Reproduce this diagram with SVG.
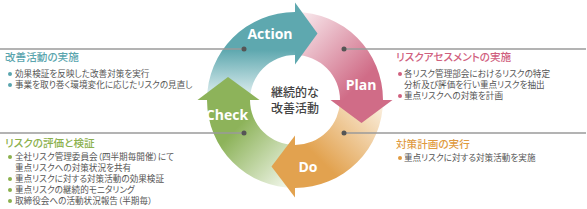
<svg xmlns="http://www.w3.org/2000/svg" width="587" height="209" viewBox="0 0 587 209">
<style>
.t{font-family:"Noto Sans CJK JP","Noto Sans",sans-serif;font-feature-settings:"palt";}
.ttl{font-size:10.6px;font-weight:500;}
.b{font-size:8.6px;fill:#555;}
.lbl{font-family:"Open Sans","DejaVu Sans",sans-serif;font-weight:bold;font-size:14px;fill:#fff;text-anchor:middle;}
.ctr{font-family:"Noto Sans CJK JP",sans-serif;font-size:12px;font-weight:500;fill:#444;text-anchor:middle;}
.ln{stroke:#9a9a9a;stroke-width:1.4;fill:none;}
.dot{fill:#555;}
</style>
<defs>
<linearGradient id="gA" gradientUnits="userSpaceOnUse" x1="0" y1="100" x2="0" y2="50"><stop offset="0" stop-color="#eaf4f5"/><stop offset="1" stop-color="#5ea8af"/></linearGradient>
<linearGradient id="gP" gradientUnits="userSpaceOnUse" x1="300" y1="15" x2="365" y2="78"><stop offset="0" stop-color="#f8e8ec"/><stop offset="1" stop-color="#d06c87"/></linearGradient>
<linearGradient id="gD" gradientUnits="userSpaceOnUse" x1="385" y1="105" x2="325" y2="165"><stop offset="0" stop-color="#fbf1e2"/><stop offset="1" stop-color="#e2a24f"/></linearGradient>
<linearGradient id="gC" gradientUnits="userSpaceOnUse" x1="230" y1="135" x2="288" y2="190"><stop offset="0" stop-color="#8db35a"/><stop offset="1" stop-color="#f4f8ee"/></linearGradient>
</defs>
<g id="cycle">
<g id="action">
<path d="M207,100 A88,88 0 0 1 295,12 L295,55 A45,45 0 0 0 250,100 Z" fill="url(#gA)"/>
</g>
<g id="plan">
<path d="M295,12 A88,88 0 0 1 383,100 L340,100 A45,45 0 0 0 295,55 Z" fill="url(#gP)"/>
</g>
<g id="do">
<path d="M383,100 A88,88 0 0 1 295,188 L295,145 A45,45 0 0 0 340,100 Z" fill="url(#gD)"/>
</g>
<g id="check">
<path d="M295,188 A88,88 0 0 1 207,100 L250,100 A45,45 0 0 0 295,145 Z" fill="url(#gC)"/>
</g>
<g id="heads">
<polygon points="295,2.5 317.5,33.5 295,64.5" fill="#5ea8af"/>
<polygon points="330.5,100 392.5,100 361.5,123" fill="#d06c87"/>
<polygon points="295,135.5 295,197.5 271.5,166.5" fill="#e2a24f"/>
<polygon points="197.5,100 259.5,100 228,77" fill="#8db35a"/>
</g>
<text class="lbl" x="270" y="39">Action</text>
<text class="lbl" x="361" y="90">Plan</text>
<text class="lbl" x="308" y="172">Do</text>
<text class="lbl" x="227" y="120">Check</text>
<text class="ctr" x="295"><tspan x="295" y="97">継続的な</tspan><tspan x="295" y="113">改善活動</tspan></text>
</g>
<g id="connectors">
<line class="ln" x1="0" y1="49" x2="244" y2="49"/>
<line class="ln" x1="0" y1="133" x2="244" y2="133"/>
<line class="ln" x1="344" y1="49" x2="586" y2="49"/>
<line class="ln" x1="344" y1="133" x2="586" y2="133"/>
<circle class="dot" cx="244" cy="49" r="2.5"/>
<circle class="dot" cx="244" cy="133" r="2.5"/>
<circle class="dot" cx="344" cy="49" r="2.5"/>
<circle class="dot" cx="344" cy="133" r="2.5"/>
</g>
<g id="kaizen" class="t">
<text class="ttl" x="5" y="61" fill="#5aa5ae">改善活動の実施</text>
<circle cx="10" cy="74" r="2" fill="#5aa5ae"/>
<circle cx="10" cy="85" r="2" fill="#5aa5ae"/>
<text class="b"><tspan x="15" y="77">効果検証を反映した改善対策を実行</tspan><tspan x="15" y="88">事業を取り巻く環境変化に応じたリスクの見直し</tspan></text>
</g>
<g id="hyoka" class="t">
<text class="ttl" x="5" y="147" fill="#8bb04c">リスクの評価と検証</text>
<circle cx="10" cy="157" r="2" fill="#8bb04c"/>
<circle cx="10" cy="179" r="2" fill="#8bb04c"/>
<circle cx="10" cy="190" r="2" fill="#8bb04c"/>
<circle cx="10" cy="201" r="2" fill="#8bb04c"/>
<text class="b"><tspan x="15" y="160">全社リスク管理委員会（四半期毎開催）にて</tspan><tspan x="15" y="171">重点リスクへの対策状況を共有</tspan><tspan x="15" y="182">重点リスクに対する対策活動の効果検証</tspan><tspan x="15" y="193">重点リスクの継続的モニタリング</tspan><tspan x="15" y="204">取締役会への活動状況報告（半期毎）</tspan></text>
</g>
<g id="assess" class="t">
<text class="ttl" x="396" y="61" fill="#d0607e">リスクアセスメントの実施</text>
<circle cx="400" cy="74" r="2" fill="#d0607e"/>
<circle cx="400" cy="96" r="2" fill="#d0607e"/>
<text class="b"><tspan x="404" y="77">各リスク管理部会におけるリスクの特定</tspan><tspan x="404" y="88">分析及び評価を行い重点リスクを抽出</tspan><tspan x="404" y="99">重点リスクへの対策を計画</tspan></text>
</g>
<g id="jikko" class="t">
<text class="ttl" x="396" y="148" fill="#e09a40">対策計画の実行</text>
<circle cx="400" cy="158" r="2" fill="#e09a40"/>
<text class="b" x="404" y="161">重点リスクに対する対策活動を実施</text>
</g>
</svg>
